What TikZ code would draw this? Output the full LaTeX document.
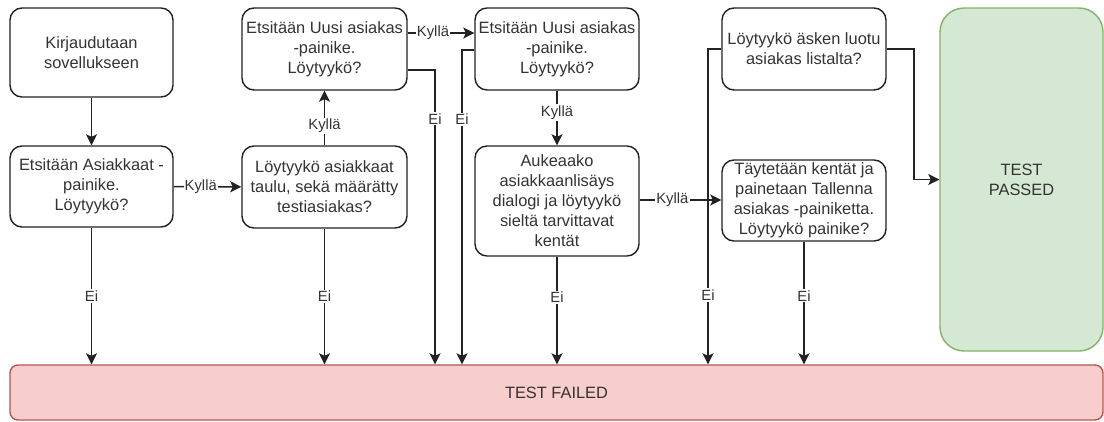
\documentclass[tikz,border=0pt]{standalone}
\usepackage{fontspec}
\setmainfont{Liberation Sans}
\usetikzlibrary{arrows.meta,calc}
\definecolor{stroke}{HTML}{222222}
\definecolor{txt}{HTML}{333333}
\definecolor{failfill}{HTML}{F8CECC}
\definecolor{failline}{HTML}{B85450}
\definecolor{passfill}{HTML}{D5E8D4}
\definecolor{passline}{HTML}{82B366}
\tikzset{
  box/.style={draw=stroke, line width=1.4pt, rounded corners=12pt, fill=white,
    align=center, text=txt, inner sep=2pt,
    font=\fontsize{16.4}{20}\selectfont},
  arr/.style={draw=stroke, line width=1.5pt, -{Stealth[length=11pt,width=11pt,inset=2.5pt]}},
  lbl/.style={fill=white, text=txt, inner sep=1.2pt, font=\fontsize{14.8}{17}\selectfont}
}
\begin{document}
\begin{tikzpicture}[x=1pt,y=-1pt]
\useasboundingbox (0,0) rectangle (1104,421);
% nodes
\node[box, minimum width=163pt, minimum height=89pt] (A) at (91.5,52.5) {Kirjaudutaan\\sovellukseen};
\node[box, minimum width=163pt, minimum height=81pt] (B) at (91.5,186.5) {Etsitään Asiakkaat -\\painike.\\Löytyykö?};
\node[box, minimum width=165pt, minimum height=82pt] (C) at (324.5,187) {Löytyykö asiakkaat\\taulu, sekä määrätty\\testiasiakas?};
\node[box, minimum width=165pt, minimum height=82pt] (D) at (324.5,49) {Etsitään Uusi asiakas\\-painike.\\Löytyykö?};
\node[box, minimum width=164pt, minimum height=82pt] (E) at (557,49) {Etsitään Uusi asiakas\\-painike.\\Löytyykö?};
\node[box, minimum width=164pt, minimum height=110pt] (F) at (557,201) {Aukeaako\\asiakkaanlisäys\\dialogi ja löytyykö\\sieltä tarvittavat\\kentät};
\node[box, minimum width=164pt, minimum height=82pt] (G) at (804,49) {Löytyykö äsken luotu\\asiakas listalta?};
\node[box, minimum width=164pt, minimum height=81pt] (H) at (804,200.5) {Täytetään kentät ja\\painetaan Tallenna\\asiakas -painiketta.\\Löytyykö painike?};
\node[box, draw=passline, fill=passfill, rounded corners=24pt, minimum width=163pt, minimum height=343pt] (P) at (1021.5,179.5) {TEST\\PASSED};
\node[box, draw=failline, fill=failfill, rounded corners=8pt, minimum width=1093pt, minimum height=55pt] (X) at (556.5,392.5) {TEST FAILED};
% helper coordinates
\coordinate (dx) at (435,0);
\coordinate (ex) at (462,0);
\coordinate (gx) at (708,0);
\coordinate (px) at (914,100);
% Kyllä edges
\draw[arr] (A) -- (B);
\draw[arr] (B) -- node[lbl, pos=0.4] {Kyllä} (C);
\draw[arr] (C) -- node[lbl, pos=0.36] {Kyllä} (D);
\draw[arr] (D.east |- 0,33) -- node[lbl, pos=0.38] {Kyllä} (E.west |- 0,33);
\draw[arr] (E) -- node[lbl, pos=0.4] {Kyllä} (F);
\draw[arr] (F.east |- 0,200) -- node[lbl, pos=0.4] {Kyllä} (H.west |- 0,200);
\draw[arr] (G.east) -| (px) |- (P.west);
% Ei edges
\draw[arr] (B.south) -- node[lbl, pos=0.5] {Ei} (B.south |- X.north);
\draw[arr] (C.south) -- node[lbl, pos=0.5] {Ei} (C.south |- X.north);
\draw[arr] ([yshift=-21pt]D.east) -| node[lbl, pos=0.583] {Ei} (X.north -| dx);
\draw[arr] ([yshift=-1pt]E.west) -| node[lbl, pos=0.61] {Ei} (X.north -| ex);
\draw[arr] (F.south) -- node[lbl, pos=0.38] {Ei} (F.south |- X.north);
\draw[arr] (G.west) -| node[lbl, pos=0.89] {Ei} (X.north -| gx);
\draw[arr] (H.south) -- node[lbl, pos=0.44] {Ei} (H.south |- X.north);
\end{tikzpicture}
\end{document}
